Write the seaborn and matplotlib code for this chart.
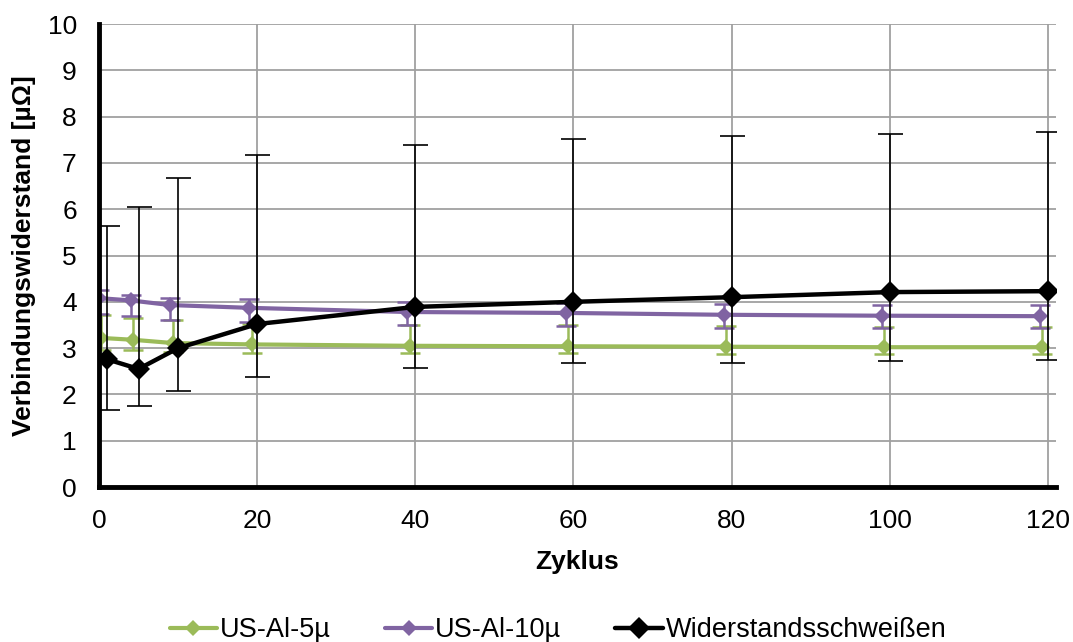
import matplotlib
matplotlib.use("Agg")
import matplotlib.pyplot as plt
import seaborn as sns
import numpy as np
import pandas as pd

# Measured contact resistance over thermal cycles
cycles_al5 = [0.3, 4.3, 9.3, 19.3, 39.3, 59.3, 79.3, 99.3, 119.3]
res_al5 = [3.22, 3.18, 3.11, 3.08, 3.05, 3.04, 3.03, 3.02, 3.02]
err_lo_al5 = [0.25, 0.22, 0.20, 0.18, 0.15, 0.15, 0.15, 0.15, 0.15]
err_hi_al5 = [0.50, 0.48, 0.50, 0.45, 0.45, 0.45, 0.45, 0.43, 0.43]

cycles_al10 = [0, 4, 9, 19, 39, 59, 79, 99, 119]
res_al10 = [4.08, 4.03, 3.93, 3.87, 3.78, 3.76, 3.72, 3.70, 3.69]
err_lo_al10 = [0.34, 0.33, 0.33, 0.31, 0.28, 0.28, 0.28, 0.27, 0.26]
err_hi_al10 = [0.17, 0.12, 0.15, 0.19, 0.22, 0.22, 0.23, 0.24, 0.24]

cycles_ws = [1, 5, 10, 20, 40, 60, 80, 100, 120]
res_ws = [2.76, 2.55, 3.00, 3.52, 3.89, 4.00, 4.10, 4.21, 4.23]
max_ws = [5.63, 6.05, 6.68, 7.17, 7.39, 7.52, 7.58, 7.63, 7.67]
min_ws = [1.66, 1.75, 2.07, 2.37, 2.58, 2.67, 2.67, 2.72, 2.74]

labels = ["US-Al-5µ", "US-Al-10µ", "Widerstandsschweißen"]
colors = ["#9BBB59", "#8064A2", "#000000"]

sns.set_theme(style="white")
plt.rcParams["font.family"] = ["Liberation Sans", "DejaVu Sans"]
plt.rcParams["text.color"] = "black"
plt.rcParams["axes.labelcolor"] = "black"

fig = plt.figure(figsize=(10.73, 6.42), dpi=100)
ax = fig.add_axes([0.0923, 0.2414, 0.8917, 0.7212])

series = [
    (cycles_al5, res_al5, err_lo_al5, err_hi_al5, labels[0], colors[0], 8.5, 3.0, 7, 1.8),
    (cycles_al10, res_al10, err_lo_al10, err_hi_al10, labels[1], colors[1], 8.5, 3.0, 7, 1.8),
    (cycles_ws, res_ws,
     list(np.subtract(res_ws, min_ws)), list(np.subtract(max_ws, res_ws)),
     labels[2], colors[2], 11, 3.2, 9, 1.2),
]

for i, (x, y, lo, hi, lab, col, ms, lw, cap, elw) in enumerate(series):
    ax.errorbar(x, y, yerr=[lo, hi], fmt="none", ecolor=col,
                elinewidth=elw, capsize=cap, capthick=elw, zorder=3 + 2 * i)
    df = pd.DataFrame({"Zyklus": x, "R": y})
    sns.lineplot(data=df, x="Zyklus", y="R", ax=ax, color=col, linewidth=lw,
                 marker="D", markersize=ms, markeredgecolor=col,
                 markeredgewidth=0, label=lab, zorder=4 + 2 * i)

ax.set_xlim(0, 121)
ax.set_ylim(0, 10)
ax.set_xticks(range(0, 121, 20))
ax.set_yticks(range(0, 11))
ax.grid(True, color="#A0A0A0", linewidth=1.3)
ax.set_axisbelow(True)

for s in ["top", "right"]:
    ax.spines[s].set_visible(False)
for s in ["left", "bottom"]:
    ax.spines[s].set_color("black")
    ax.spines[s].set_linewidth(3.5)
    ax.spines[s].set_zorder(20)

ax.tick_params(axis="both", which="both", length=0, labelsize=19, colors="black")
ax.tick_params(axis="x", pad=16)
ax.tick_params(axis="y", pad=16)
ax.set_xlabel("Zyklus", fontsize=19, fontweight="bold", labelpad=12, color="black")
ax.set_ylabel("Verbindungswiderstand [µΩ]", fontsize=19, fontweight="bold",
              labelpad=8, color="black")

ax.legend(loc="center", bbox_to_anchor=(558 / 1073, 0.018), bbox_transform=fig.transFigure,
          ncol=3, frameon=False, fontsize=19.5, handlelength=1.75,
          columnspacing=2.0, handletextpad=0.1, borderpad=0)

fig.savefig("out.png", dpi=100)
